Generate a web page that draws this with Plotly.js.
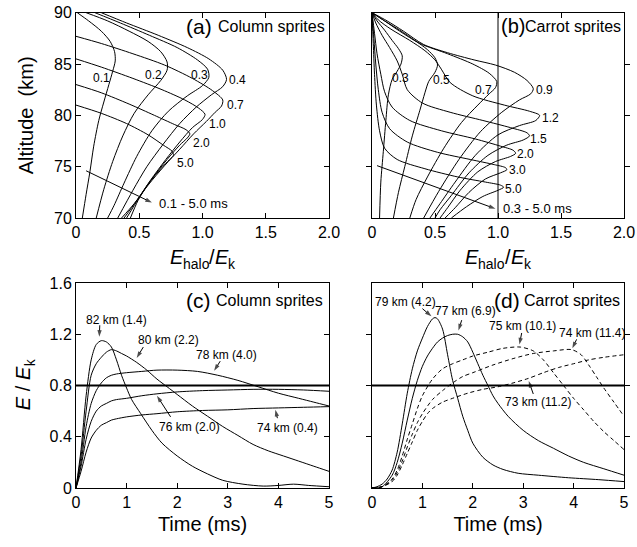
<!DOCTYPE html>
<html><head><meta charset="utf-8">
<script src="https://cdn.plot.ly/plotly-3.0.1.min.js"></script>
<style>html,body{margin:0;padding:0;background:#fff}#chart{width:637px;height:547px}</style>
</head><body><div id="chart"></div>
<script>
// ---------- Panel (a): Column sprites, E_halo/E_k vs altitude ----------
const aTimes = ['0.1','0.2','0.3','0.4','0.7','1.0','2.0','5.0'];
const aE01 = [0.01,0.1,0.2,0.27,0.305,0.31,0.29,0.26,0.22,0.18,0.14,0.11,0.08,0.05];
const aH01 = [90,89.2,88.2,87.2,86.2,85.3,84.3,83,81.3,79.5,77,74.5,72.3,70];
const aE02 = [0.08,0.25,0.42,0.57,0.67,0.72,0.72,0.67,0.57,0.46,0.37,0.29,0.22,0.16];
const aH02 = [90,89.2,88.2,87.2,86.2,85.2,84.4,83.4,82,80.2,78,75.5,72.8,70];
const aE03 = [0.15,0.35,0.58,0.8,0.96,1.04,1.05,1.0,0.88,0.73,0.6,0.48,0.38,0.3,0.25];
const aH03 = [90,89,87.8,86.6,85.4,84.5,83.7,82.9,81.9,80.4,78.5,76,73.4,71.2,70];
const aE04 = [0.2,0.4,0.65,0.88,1.05,1.16,1.19,1.16,1.07,0.95,0.82,0.69,0.56,0.45,0.33];
const aH04 = [90,89,87.8,86.6,85.5,84.4,83.5,82.8,82,80.8,79.2,77.2,75,72.7,70];
const aE07 = [0,0.2,0.45,0.7,0.92,1.08,1.16,1.15,1.1,1.03,0.93,0.82,0.7,0.57,0.46,0.36];
const aH07 = [87.7,87,86,84.9,83.6,82.4,81.5,80.9,80.3,79.4,78.2,76.7,75.1,73.2,71.4,70];
const aE10 = [0,0.2,0.45,0.68,0.86,0.97,1.02,1.0,0.92,0.82,0.71,0.59,0.48,0.38];
const aH10 = [85.5,84.7,83.6,82.5,81.5,80.7,80.1,79.6,78.8,77.4,75.7,73.7,71.7,70];
const aE20 = [0,0.2,0.42,0.62,0.78,0.87,0.9,0.88,0.82,0.72,0.6,0.5,0.40];
const aH20 = [83,82.2,81.1,80,79.1,78.6,78.2,77.8,77.1,75.7,73.8,72,70];
const aE50 = [0,0.2,0.4,0.57,0.69,0.76,0.77,0.74,0.67,0.57,0.49,0.43];
const aH50 = [81,80.2,79.2,78.1,77.1,76.5,76.1,75.7,74.8,73.3,71.7,70];
const aLabE = [0.2,0.61,0.98,1.28,1.26,1.12,0.99,0.865];
const aLabH = [83.6,83.9,83.9,83.4,81,79.2,77.35,75.4];

// ---------- Panel (b): Carrot sprites ----------
const bTimes = ['0.3','0.5','0.7','0.9','1.2','1.5','2.0','3.0','5.0'];
const bE03 = [0,0.04,0.1,0.16,0.21,0.24,0.23,0.2,0.16,0.13,0.11,0.09,0.07,0.06];
const bH03 = [90,89.2,88.3,87.3,86.5,85.8,85,84.3,83.5,82,79.5,76.5,73.5,70];
const bE05 = [0,0.1,0.22,0.34,0.44,0.5,0.52,0.5,0.45,0.42,0.38,0.32,0.26,0.21,0.17];
const bH05 = [90,89.2,88.3,87.3,86.4,85.6,84.9,84.2,83.3,82.2,80.5,78,75,72.5,70];
const bE07 = [0,0.1,0.22,0.38,0.6,0.8,0.93,0.99,0.98,0.93,0.84,0.71,0.57,0.44,0.35,0.3];
const bH07 = [90,89.2,88.2,87,86,85,84.1,83.3,82.7,82.1,81,79.3,76.8,74,71.8,70];
const bE09 = [0,0.12,0.25,0.41,0.6,0.81,0.98,1.13,1.23,1.28,1.26,1.17,1.03,0.86,0.69,0.53,0.41];
const bH09 = [90,89.2,88.2,86.9,86.1,85.4,84.9,84.2,83.4,82.6,82.1,81.5,80.3,78.4,75.7,72.6,70];
const bE12 = [0,0.05,0.15,0.3,0.42,0.5,0.55,0.62,0.8,1.05,1.25,1.33,1.3,1.17,1.0,0.82,0.66,0.54,0.46];
const bH12 = [90,89.3,88.4,87.3,86.3,85.4,84.5,83.2,81.9,81.0,80.4,80.0,79.5,79.0,78.1,76.1,73.5,71.4,70];
const bE15 = [0,0.03,0.08,0.14,0.2,0.24,0.28,0.4,0.62,0.88,1.1,1.23,1.25,1.2,1.07,0.92,0.77,0.63,0.54,0.5];
const bH15 = [90,89,87.8,86.6,85.3,84,82.5,81.2,80.3,79.5,78.8,78.3,78,77.6,77.1,76.1,74.4,72.2,70.8,70];
const bE20 = [0,0.02,0.04,0.07,0.1,0.16,0.3,0.55,0.82,1.02,1.12,1.14,1.1,0.98,0.84,0.7,0.6,0.54];
const bH20 = [90,88,86,84,82.3,80.8,79.5,78.5,77.7,77,76.6,76.3,76,75.5,74.5,72.7,71,70];
const bE30 = [0,0.015,0.03,0.05,0.08,0.14,0.28,0.52,0.78,0.97,1.06,1.07,1.02,0.9,0.77,0.66,0.58];
const bH30 = [90,87.5,85,82.5,80.3,78.7,77.4,76.4,75.7,75.2,74.9,74.7,74.4,73.8,72.5,71,70];
const bE50 = [0,0.01,0.02,0.035,0.06,0.1,0.2,0.42,0.68,0.9,1.02,1.045,1.0,0.88,0.75,0.63];
const bH50 = [90,87,84,81,78.5,76.8,75.7,74.8,74.0,73.5,73.2,73.0,72.7,72.1,71.1,70];
const bLabE = [0.23,0.55,0.885,1.37,1.42,1.32,1.215,1.155,1.12];
const bLabH = [83.6,83.4,82.5,82.5,79.7,77.7,76.2,74.7,72.8];

// ---------- Panel (c): Column sprites, E/E_k vs time ----------
const c82t = [0,0.1,0.2,0.3,0.4,0.5,0.6,0.7,0.8,0.9,1.0,1.1,1.28,1.5,1.7,2.0,2.3,2.6,2.9,3.3,3.7,4.0,4.3,4.6,5.0];
const c82v = [0,0.3,0.72,1.0,1.12,1.15,1.14,1.1,1.0,0.88,0.78,0.69,0.58,0.45,0.35,0.25,0.17,0.11,0.06,0.03,0.015,0.02,0.03,0.02,0.01];
const c80t = [0,0.1,0.2,0.3,0.4,0.5,0.6,0.7,0.8,0.9,1.0,1.2,1.4,1.6,1.8,2.0,2.3,2.6,2.9,3.2,3.5,3.8,4.1,4.4,4.7,5.0];
const c80v = [0,0.25,0.6,0.88,0.97,1.02,1.06,1.08,1.07,1.05,1.03,0.98,0.92,0.85,0.79,0.73,0.64,0.56,0.48,0.41,0.34,0.29,0.25,0.21,0.17,0.13];
const c78t = [0,0.1,0.2,0.3,0.4,0.5,0.6,0.7,0.8,1.0,1.3,1.6,2.0,2.4,2.8,3.2,3.6,4.0,4.4,4.7,5.0];
const c78v = [0,0.2,0.48,0.66,0.76,0.82,0.86,0.88,0.89,0.9,0.91,0.92,0.92,0.91,0.88,0.84,0.79,0.74,0.7,0.67,0.64];
const c76t = [0,0.1,0.2,0.3,0.4,0.5,0.6,0.7,0.8,1.0,1.3,1.6,2.0,2.5,3.0,3.5,4.0,4.5,5.0];
const c76v = [0,0.17,0.38,0.52,0.6,0.64,0.66,0.68,0.69,0.7,0.72,0.735,0.75,0.76,0.765,0.77,0.77,0.765,0.755];
const c74t = [0,0.1,0.2,0.3,0.4,0.5,0.6,0.7,0.8,1.0,1.3,1.6,2.0,2.5,3.0,3.5,4.0,4.5,5.0];
const c74v = [0,0.13,0.28,0.39,0.45,0.49,0.51,0.53,0.54,0.555,0.57,0.58,0.595,0.605,0.61,0.62,0.625,0.63,0.635];

// ---------- Panel (d): Carrot sprites ----------
const d79t = [0,0.1,0.2,0.3,0.4,0.5,0.6,0.7,0.8,0.9,1.0,1.1,1.2,1.25,1.3,1.4,1.5,1.6,1.7,1.8,1.9,2.0,2.2,2.4,2.6,2.9,3.3,3.9,4.5,5.0];
const d79v = [0,0.01,0.03,0.07,0.14,0.28,0.5,0.74,0.93,1.07,1.17,1.26,1.32,1.33,1.32,1.24,1.04,0.84,0.7,0.56,0.45,0.35,0.24,0.18,0.145,0.115,0.1,0.08,0.065,0.05];
const d77t = [0,0.2,0.4,0.5,0.6,0.7,0.8,0.9,1.0,1.1,1.2,1.3,1.4,1.5,1.6,1.7,1.8,1.9,2.0,2.1,2.2,2.3,2.4,2.5,2.7,3.0,3.3,3.6,3.9,4.2,4.6,5.0];
const d77v = [0,0.01,0.1,0.2,0.35,0.53,0.7,0.84,0.95,1.03,1.09,1.14,1.17,1.19,1.2,1.2,1.18,1.14,1.06,0.97,0.88,0.8,0.72,0.66,0.56,0.45,0.37,0.31,0.25,0.2,0.15,0.1];
const d75t = [0,0.2,0.4,0.5,0.6,0.7,0.8,0.9,1.0,1.2,1.4,1.6,1.8,2.0,2.3,2.6,2.94,3.2,3.4,3.6,3.8,4.0,4.2,4.4,4.6,4.8,5.0];
const d75v = [0,0.01,0.07,0.14,0.25,0.38,0.5,0.62,0.72,0.85,0.93,0.97,1.0,1.03,1.06,1.09,1.1,1.07,1.0,0.9,0.8,0.7,0.61,0.52,0.44,0.37,0.3];
const d74t = [0,0.2,0.4,0.5,0.6,0.7,0.8,0.9,1.0,1.2,1.4,1.6,1.8,2.0,2.4,2.8,3.2,3.6,3.96,4.15,4.3,4.45,4.6,4.8,5.0];
const d74v = [0,0.01,0.06,0.12,0.21,0.32,0.42,0.51,0.58,0.69,0.76,0.82,0.87,0.9,0.96,1.01,1.05,1.07,1.08,1.04,0.96,0.87,0.78,0.67,0.56];
const d73t = [0,0.2,0.4,0.5,0.6,0.7,0.8,0.9,1.0,1.1,1.2,1.4,1.6,1.9,2.2,2.5,2.8,3.1,3.4,3.7,4.0,4.3,4.6,5.0];
const d73v = [0,0.01,0.05,0.1,0.18,0.27,0.36,0.45,0.52,0.58,0.62,0.67,0.7,0.74,0.77,0.79,0.82,0.855,0.9,0.94,0.97,1.0,1.02,1.04];

const threshold = 0.8;

// annotation text / arrow data
const cNames = ['82 km (1.4)','80 km (2.2)','78 km (4.0)','76 km (2.0)','74 km (0.4)'];
const cTextT = [0.8,1.83,2.98,2.24,4.18];
const cTextV = [1.31,1.156,1.04,0.474,0.466];
const cTailT = [0.47,1.33,2.85,1.87,3.98];
const cTailV = [1.27,1.10,0.99,0.555,0.545];
const cHeadT = [0.46,1.2,2.73,1.6,3.94];
const cHeadV = [1.18,1.015,0.915,0.72,0.61];
const dNames = ['79 km (4.2)','77 km (6.9)','75 km (10.1)','74 km (11.4)','73 km (11.2)'];
const dTextT = [0.67,1.85,2.99,4.37,3.3];
const dTextV = [1.455,1.385,1.266,1.21,0.674];
const dTailT = [1.0,1.78,2.97,4.06,3.2];
const dTailV = [1.40,1.31,1.21,1.16,0.734];
const dHeadT = [1.18,1.715,2.925,3.975,3.11];
const dHeadV = [1.34,1.23,1.12,1.09,0.835];
const rangeA = {tail:[0.08,74.6], head:[0.6,71.5]};
const rangeB = {tail:[0.04,75.1], head:[0.98,70.9]};

// ---------- traces ----------
// panel (b) shares the altitude axis 'y' with (a); panel (d) shares 'y3' with (c)
const traces = [];
function curve(x, y, xa, ya, dash){
  traces.push({x:x, y:y, xaxis:xa, yaxis:ya, type:'scatter', mode:'lines', hoverinfo:'skip',
    line:{color:'black', width:1, shape:'spline', smoothing:0.8, dash: dash || 'solid'}});
}
function arrowTrace(tx, ty, hx, hy, xa, ya){
  traces.push({x:[tx, hx], y:[ty, hy], xaxis:xa, yaxis:ya, type:'scatter', mode:'lines+markers', hoverinfo:'skip',
    line:{color:'black', width:1},
    marker:{symbol:'arrow', size:[0,7], color:'black', angleref:'previous', line:{width:0}}});
}
[[aE01,aH01],[aE02,aH02],[aE03,aH03],[aE04,aH04],[aE07,aH07],[aE10,aH10],[aE20,aH20],[aE50,aH50]]
  .forEach(p => curve(p[0], p[1], 'x', 'y'));
[[bE03,bH03],[bE05,bH05],[bE07,bH07],[bE09,bH09],[bE12,bH12],[bE15,bH15],[bE20,bH20],[bE30,bH30],[bE50,bH50]]
  .forEach(p => curve(p[0], p[1], 'x2', 'y'));
[[c82t,c82v],[c80t,c80v],[c78t,c78v],[c76t,c76v],[c74t,c74v]].forEach(p => curve(p[0], p[1], 'x3', 'y3'));
curve(d79t, d79v, 'x4', 'y3');
curve(d77t, d77v, 'x4', 'y3');
curve(d75t, d75v, 'x4', 'y3', '4px,3px');
curve(d74t, d74v, 'x4', 'y3', '4px,3px');
curve(d73t, d73v, 'x4', 'y3', '4px,3px');
arrowTrace(rangeA.tail[0], rangeA.tail[1], rangeA.head[0], rangeA.head[1], 'x', 'y');
arrowTrace(rangeB.tail[0], rangeB.tail[1], rangeB.head[0], rangeB.head[1], 'x2', 'y');
cNames.forEach((s,i) => arrowTrace(cTailT[i], cTailV[i], cHeadT[i], cHeadV[i], 'x3', 'y3'));
dNames.forEach((s,i) => arrowTrace(dTailT[i], dTailV[i], dHeadT[i], dHeadV[i], 'x4', 'y3'));

// ---------- annotations ----------
const ann = [];
const F = 'Liberation Sans, Arial, Helvetica, sans-serif';
function txt(x, y, xr, yr, text, size, xanchor){
  ann.push({x:x, y:y, xref:xr, yref:yr, text:text, showarrow:false, xanchor:xanchor||'center', yanchor:'middle',
    font:{size:size, color:'black', family:F}});
}
aTimes.forEach((s,i) => txt(aLabE[i], aLabH[i], 'x', 'y', s, 12));
bTimes.forEach((s,i) => txt(bLabE[i], bLabH[i], 'x2', 'y', s, 12));
txt(0.64, 71.45, 'x', 'y', '0.1 - 5.0 ms', 13, 'left');
txt(1.02, 70.9, 'x2', 'y', '0.3 - 5.0 ms', 13, 'left');
cNames.forEach((s,i) => txt(cTextT[i], cTextV[i], 'x3', 'y3', s, 12));
dNames.forEach((s,i) => txt(dTextT[i], dTextV[i], 'x4', 'y3', s, 12));

// panel tags
txt(1.09, 88.7, 'x', 'y', '(a)', 21, 'right');
txt(1.985, 88.7, 'x', 'y', 'Column sprites', 16, 'right');
txt(1.005, 88.7, 'x2', 'y', '(b)', 20, 'left');
txt(1.99, 88.7, 'x2', 'y', 'Carrot sprites', 16, 'right');
txt(2.71, 1.46, 'x3', 'y3', '(c)', 21, 'right');
txt(4.93, 1.46, 'x3', 'y3', 'Column sprites', 16, 'right');
txt(2.98, 1.46, 'x4', 'y3', '(d)', 21, 'right');
txt(4.96, 1.46, 'x4', 'y3', 'Carrot sprites', 16, 'right');

// ---------- composed titles with lowered subscripts ----------
const W = 637, H = 547;
const BIG = 20, SMALL = 14, SUBDROP = 6.5;
const ratioTitle = [
  {t:'<i>E</i>', s:BIG, w:13.3, gap:0, sub:false},
  {t:'halo', s:SMALL, w:26.5, gap:0, sub:true},
  {t:'/', s:BIG, w:5.6, gap:0, sub:false},
  {t:'<i>E</i>', s:BIG, w:13.3, gap:0, sub:false},
  {t:'k', s:SMALL, w:7.0, gap:0, sub:true}
];
const fieldTitle = [
  {t:'<i>E</i>', s:BIG, w:13.3, gap:0, sub:false},
  {t:'/', s:BIG, w:5.6, gap:5.6, sub:false},
  {t:'<i>E</i>', s:BIG, w:13.3, gap:5.6, sub:false},
  {t:'k', s:SMALL, w:7.0, gap:0, sub:true}
];
function piece(px, py, p, angle, xa, ya){
  ann.push({x:px/W, y:1-py/H, xref:'paper', yref:'paper', text:p.t, showarrow:false, textangle:angle,
    xanchor:xa, yanchor:ya, borderpad:0, borderwidth:0, font:{size:p.s, color:'black', family:F}});
}
function hTitle(cx, cy, pieces){
  const total = pieces.reduce((a,p) => a + p.w + p.gap, 0);
  let x = cx - total/2;
  pieces.forEach(p => { x += p.gap; piece(x, cy + (p.sub ? SUBDROP : 0), p, 0, 'left', 'middle'); x += p.w; });
}
function vTitle(cx, cy, pieces){
  const total = pieces.reduce((a,p) => a + p.w + p.gap, 0);
  let y = cy + total/2;
  pieces.forEach(p => { y -= p.gap; piece(cx + (p.sub ? SUBDROP : 0), y, p, -90, 'center', 'bottom'); y -= p.w; });
}
hTitle(202.5, 257, ratioTitle);
hTitle(498, 257, ratioTitle);
vTitle(23, 385, fieldTitle);

// ---------- axes ----------
const titleFont = {size:20, color:'black', family:F};
function axis(extra){
  return Object.assign({showline:true, linecolor:'black', linewidth:1, mirror:'allticks', ticks:'inside',
    ticklen:5, tickwidth:1, tickcolor:'black', showgrid:false, zeroline:false, fixedrange:true,
    tickfont:{size:16, color:'black', family:F}, tickmode:'array'}, extra);
}
const eTicks = [0,0.5,1,1.5,2], eText = ['0','0.5','1.0','1.5','2.0'];
const hTicks = [70,75,80,85,90], hText = ['70','75','80','85','90'];
const tTicks = [0,1,2,3,4,5], tText = ['0','1','2','3','4','5'];
const vTicks = [0,0.4,0.8,1.2,1.6], vText = ['0','0.4','0.8','1.2','1.6'];
const xA = [76/W, 329/W], xB = [372/W, 624/W];
const yTop = [1-218/H, 1-12.7/H], yBot = [1-488/H, 1-283/H];

const layout = {
  width:W, height:H, margin:{l:0,r:0,t:0,b:0}, paper_bgcolor:'white', plot_bgcolor:'white',
  showlegend:false, font:{family:F, color:'black'},
  xaxis: axis({domain:xA, anchor:'y', range:[0,2], tickvals:eTicks, ticktext:eText}),
  yaxis: axis({domain:yTop, anchor:'x', range:[70,90], tickvals:hTicks, ticktext:hText,
    title:{text:'Altitude  (km)', font:titleFont, standoff:14}}),
  xaxis2: axis({domain:xB, anchor:'y', range:[0,2], tickvals:eTicks, ticktext:eText}),
  xaxis3: axis({domain:xA, anchor:'y3', range:[0,5], tickvals:tTicks, ticktext:tText,
    title:{text:'Time (ms)', font:titleFont, standoff:6}}),
  yaxis3: axis({domain:yBot, anchor:'x3', range:[0,1.6], tickvals:vTicks, ticktext:vText}),
  xaxis4: axis({domain:xB, anchor:'y3', range:[0,5], tickvals:tTicks, ticktext:tText,
    title:{text:'Time (ms)', font:titleFont, standoff:6}}),
  shapes: [
    {type:'line', xref:'x3', yref:'y3', x0:0, x1:5, y0:threshold, y1:threshold, line:{color:'black', width:2}},
    {type:'line', xref:'x4', yref:'y3', x0:0, x1:5, y0:threshold, y1:threshold, line:{color:'black', width:2}},
    {type:'line', xref:'x2', yref:'y', x0:1, x1:1, y0:70, y1:90, line:{color:'black', width:1}}
  ],
  annotations: ann
};
Plotly.newPlot('chart', traces, layout, {staticPlot:true, displayModeBar:false});
</script></body></html>
